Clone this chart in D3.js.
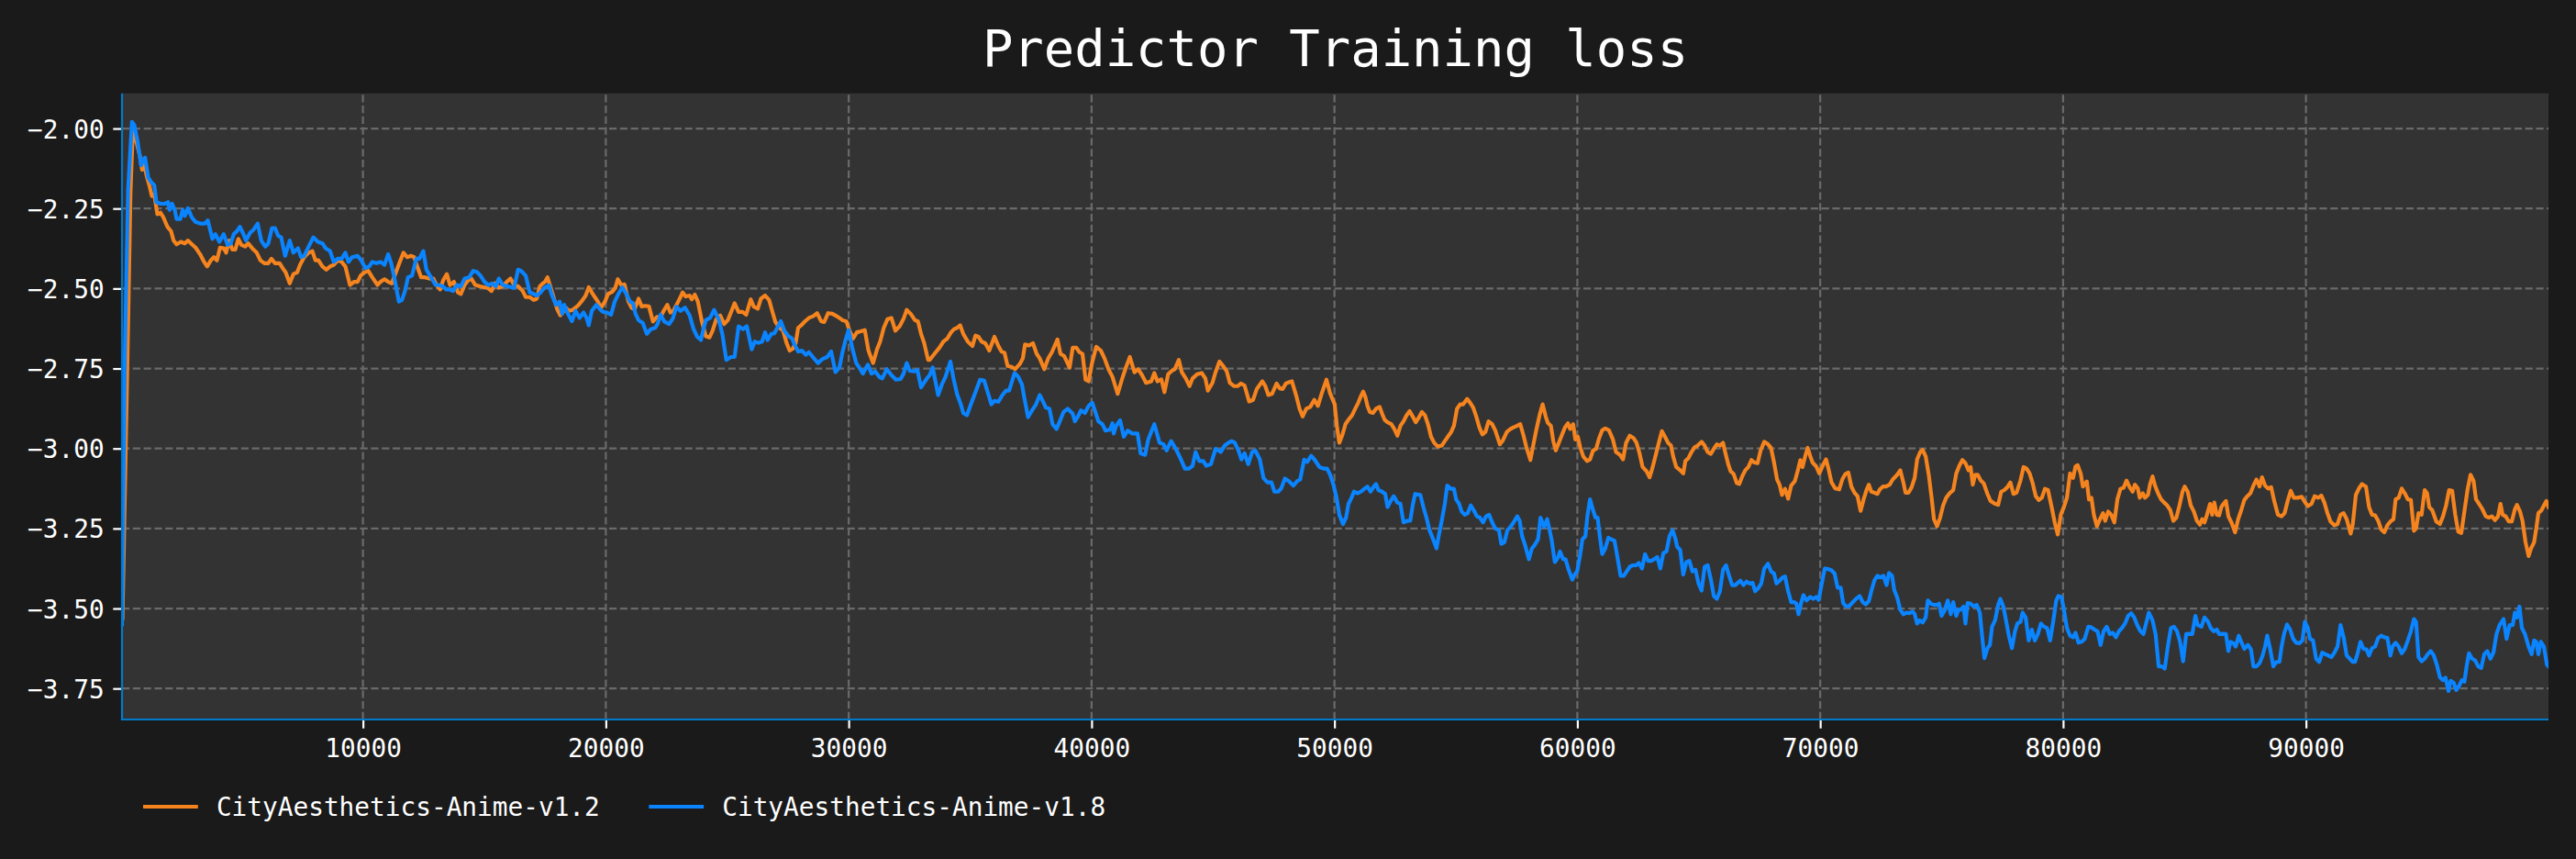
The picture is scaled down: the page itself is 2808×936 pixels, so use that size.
<!DOCTYPE html>
<html><head><meta charset="utf-8">
<script src="https://cdn.jsdelivr.net/npm/d3@7"></script>
<style>
html,body{margin:0;padding:0;background:#1a1a1a;}
svg{display:block;}
</style></head><body>
<script>
const chartTitle = "Predictor Training loss";
const seriesNames = ["CityAesthetics-Anime-v1.2", "CityAesthetics-Anime-v1.8"];
const seriesColors = ["#f5841f", "#0a84ff"];
const xTickValues = [10000, 20000, 30000, 40000, 50000, 60000, 70000, 80000, 90000];
const yTickValues = [-2.00, -2.25, -2.50, -2.75, -3.00, -3.25, -3.50, -3.75];

// [step, loss] for CityAesthetics-Anime-v1.2
const lossV12 = [
[100,-3.53],[320,-2.66],[430,-2.20],[528,-2.002],[691,-2.048],[817,-2.086],[905,-2.129],[993,-2.110],[1094,-2.148],[1220,-2.182],[1308,-2.211],[1409,-2.206],[1535,-2.268],[1661,-2.263],[1786,-2.278],[1950,-2.307],[2101,-2.321],[2202,-2.350],[2328,-2.362],[2504,-2.354],[2668,-2.359],[2793,-2.350],[2919,-2.359],[3108,-2.372],[3297,-2.393],[3461,-2.417],[3586,-2.431],[3738,-2.412],[3863,-2.402],[3989,-2.412],[4115,-2.372],[4266,-2.374],[4367,-2.388],[4493,-2.350],[4619,-2.378],[4745,-2.378],[4870,-2.345],[4996,-2.364],[5147,-2.369],[5273,-2.359],[5437,-2.374],[5626,-2.388],[5777,-2.412],[5940,-2.421],[6104,-2.421],[6230,-2.407],[6381,-2.421],[6570,-2.421],[6696,-2.436],[6822,-2.450],[6985,-2.484],[7136,-2.455],[7287,-2.450],[7413,-2.426],[7577,-2.402],[7766,-2.388],[7917,-2.383],[8043,-2.412],[8168,-2.412],[8332,-2.431],[8496,-2.441],[8647,-2.431],[8798,-2.426],[8962,-2.412],[9125,-2.417],[9276,-2.431],[9465,-2.489],[9629,-2.479],[9780,-2.479],[9906,-2.460],[10057,-2.450],[10220,-2.445],[10384,-2.465],[10598,-2.489],[10724,-2.479],[10887,-2.471],[11039,-2.479],[11190,-2.484],[11353,-2.450],[11542,-2.412],[11668,-2.388],[11819,-2.402],[11983,-2.398],[12109,-2.402],[12234,-2.431],[12398,-2.465],[12549,-2.465],[12738,-2.469],[12902,-2.469],[13028,-2.489],[13179,-2.503],[13304,-2.474],[13455,-2.455],[13581,-2.489],[13745,-2.479],[13909,-2.512],[14034,-2.517],[14185,-2.489],[14336,-2.474],[14462,-2.469],[14626,-2.489],[14815,-2.493],[15130,-2.498],[15293,-2.508],[15444,-2.484],[15595,-2.498],[15759,-2.493],[15923,-2.479],[16074,-2.469],[16225,-2.489],[16388,-2.493],[16577,-2.508],[16703,-2.527],
[16867,-2.527],[17031,-2.536],[17156,-2.532],[17282,-2.493],[17408,-2.484],[17496,-2.479],[17597,-2.465],[17723,-2.496],[17849,-2.527],[17999,-2.565],[18125,-2.584],[18226,-2.575],[18352,-2.560],[18478,-2.570],[18629,-2.567],[18755,-2.560],[18881,-2.551],[19045,-2.536],[19171,-2.522],[19296,-2.496],[19422,-2.512],[19548,-2.527],[19674,-2.541],[19800,-2.560],[19964,-2.541],[20089,-2.517],[20266,-2.510],[20392,-2.498],[20492,-2.471],[20643,-2.490],[20769,-2.487],[20933,-2.541],[21059,-2.560],[21185,-2.565],[21348,-2.532],[21474,-2.556],[21625,-2.554],[21776,-2.556],[21940,-2.603],[22104,-2.589],[22255,-2.589],[22380,-2.570],[22532,-2.551],[22657,-2.575],[22783,-2.570],[22947,-2.546],[23073,-2.527],[23161,-2.512],[23287,-2.525],[23450,-2.522],[23539,-2.534],[23664,-2.519],[23790,-2.541],[23954,-2.603],[24118,-2.649],[24269,-2.653],[24395,-2.632],[24546,-2.596],[24709,-2.584],[24873,-2.611],[25024,-2.599],[25150,-2.575],[25301,-2.546],[25465,-2.573],[25628,-2.573],[25779,-2.582],[25968,-2.534],[26094,-2.557],[26258,-2.563],[26383,-2.532],[26560,-2.522],[26723,-2.536],[26849,-2.570],[26975,-2.603],[27139,-2.623],[27290,-2.630],[27441,-2.670],[27567,-2.694],[27693,-2.688],[27818,-2.670],[27919,-2.623],[28045,-2.615],[28196,-2.603],[28360,-2.592],[28549,-2.586],[28700,-2.577],[28863,-2.602],[28989,-2.605],[29153,-2.577],[29329,-2.579],[29493,-2.586],[29619,-2.592],[29744,-2.599],[29908,-2.603],[30034,-2.632],[30185,-2.656],[30336,-2.637],[30500,-2.634],[30663,-2.630],[30814,-2.694],[31003,-2.733],[31167,-2.690],[31293,-2.666],[31444,-2.623],[31595,-2.596],[31759,-2.592],[31922,-2.632],[32098,-2.618],[32262,-2.594],[32388,-2.567],[32552,-2.579],[32728,-2.599],[32854,-2.603],[32980,-2.642],[33106,-2.670],[33269,-2.723],
[33332,-2.723],[33458,-2.711],[33584,-2.699],[33735,-2.685],[33898,-2.666],[34062,-2.656],[34213,-2.637],[34339,-2.627],[34465,-2.623],[34591,-2.615],[34717,-2.642],[34905,-2.666],[35094,-2.680],[35220,-2.647],[35346,-2.651],[35472,-2.666],[35623,-2.671],[35787,-2.694],[36001,-2.651],[36164,-2.680],[36290,-2.697],[36416,-2.701],[36542,-2.742],[36705,-2.745],[36857,-2.752],[37045,-2.736],[37171,-2.718],[37259,-2.675],[37423,-2.678],[37587,-2.671],[37738,-2.704],[37864,-2.718],[38052,-2.752],[38216,-2.718],[38367,-2.699],[38594,-2.659],[38719,-2.704],[38871,-2.711],[39097,-2.747],[39223,-2.685],[39374,-2.685],[39500,-2.699],[39626,-2.704],[39752,-2.785],[39878,-2.790],[40004,-2.738],[40192,-2.682],[40381,-2.694],[40532,-2.718],[40696,-2.752],[40860,-2.776],[41074,-2.829],[41262,-2.781],[41413,-2.747],[41577,-2.714],[41766,-2.762],[41917,-2.752],[42081,-2.771],[42244,-2.795],[42458,-2.790],[42584,-2.764],[42710,-2.790],[42874,-2.784],[43000,-2.824],[43151,-2.768],[43339,-2.755],[43427,-2.752],[43591,-2.723],[43717,-2.762],[43881,-2.781],[44032,-2.805],[44158,-2.781],[44346,-2.768],[44535,-2.764],[44686,-2.781],[44787,-2.819],[44976,-2.795],[45102,-2.762],[45265,-2.728],[45416,-2.742],[45567,-2.759],[45693,-2.795],[45857,-2.805],[46021,-2.805],[46147,-2.797],[46298,-2.803],[46486,-2.853],[46650,-2.848],[46801,-2.814],[47028,-2.790],[47153,-2.805],[47279,-2.833],[47430,-2.829],[47619,-2.797],[47745,-2.812],[47871,-2.814],[47997,-2.797],[48123,-2.793],[48249,-2.790],[48437,-2.838],[48563,-2.876],[48689,-2.900],[48840,-2.876],[49004,-2.870],[49168,-2.848],[49319,-2.867],[49470,-2.829],[49671,-2.785],[49822,-2.828],
[50011,-2.862],[50099,-2.929],[50200,-2.982],[50326,-2.958],[50451,-2.924],[50577,-2.910],[50728,-2.896],[50854,-2.876],[50980,-2.857],[51081,-2.838],[51182,-2.822],[51270,-2.838],[51358,-2.867],[51458,-2.886],[51584,-2.889],[51710,-2.876],[51861,-2.870],[51962,-2.891],[52063,-2.910],[52188,-2.918],[52340,-2.924],[52465,-2.939],[52591,-2.960],[52717,-2.929],[52843,-2.915],[52969,-2.896],[53095,-2.883],[53221,-2.900],[53347,-2.918],[53499,-2.900],[53598,-2.886],[53724,-2.896],[53850,-2.924],[53976,-2.963],[54102,-2.982],[54253,-2.994],[54417,-2.991],[54543,-2.977],[54668,-2.963],[54794,-2.950],[54920,-2.929],[55046,-2.876],[55172,-2.862],[55298,-2.862],[55461,-2.845],[55587,-2.857],[55713,-2.872],[55839,-2.900],[55965,-2.934],[56091,-2.956],[56217,-2.948],[56343,-2.915],[56494,-2.924],[56620,-2.943],[56745,-2.972],[56808,-2.987],[56934,-2.975],[57098,-2.948],[57249,-2.939],[57375,-2.934],[57526,-2.929],[57652,-2.924],[57778,-2.958],[57903,-2.996],[58067,-3.036],[58193,-2.987],[58319,-2.939],[58445,-2.896],[58571,-2.862],[58697,-2.900],[58785,-2.920],[58911,-2.929],[59011,-2.977],[59112,-3.006],[59238,-2.982],[59364,-2.958],[59490,-2.934],[59615,-2.921],[59704,-2.939],[59829,-2.924],[59918,-2.972],[60018,-2.963],[60119,-2.996],[60245,-3.025],[60396,-3.039],[60522,-3.034],[60648,-3.006],[60774,-3.001],[60899,-2.967],[61025,-2.943],[61151,-2.937],[61302,-2.943],[61466,-2.972],[61592,-3.011],[61755,-3.020],[61881,-3.034],[62007,-2.982],[62158,-2.960],[62309,-2.967],[62435,-2.982],[62561,-3.015],[62687,-3.058],[62851,-3.071],[62976,-3.090],[63102,-3.058],[63228,-3.020],[63354,-2.982],[63480,-2.946],[63606,-2.963],[63732,-2.982],[63858,-2.991],[63946,-3.025],[64072,-3.058],[64235,-3.068],[64361,-3.078],[64449,-3.039],[64575,-3.030],[64701,-3.011],[64827,-2.996],[64953,-2.991],[65116,-2.979],[65242,-2.991],[65368,-3.011],[65494,-3.017],[65620,-3.001],[65746,-2.987],[65872,-2.991],[65998,-2.982],[66086,-3.011],[66212,-3.049],[66312,-3.071],[66438,-3.080],[66564,-3.108],
[66665,-3.111],[66790,-3.087],[66916,-3.068],[67042,-3.058],[67168,-3.036],[67294,-3.044],[67420,-3.046],[67546,-3.006],[67697,-2.979],[67823,-2.985],[67974,-2.998],[68100,-3.044],[68225,-3.097],[68326,-3.113],[68427,-3.145],[68553,-3.126],[68679,-3.157],[68805,-3.116],[68956,-3.102],[69081,-3.068],[69182,-3.036],[69270,-3.058],[69396,-3.020],[69484,-2.998],[69585,-3.023],[69686,-3.044],[69837,-3.056],[69963,-3.078],[70114,-3.052],[70240,-3.034],[70340,-3.063],[70466,-3.106],[70617,-3.125],[70781,-3.128],[70907,-3.097],[71033,-3.080],[71159,-3.075],[71284,-3.119],[71410,-3.138],[71536,-3.149],[71662,-3.195],[71788,-3.159],[71914,-3.128],[72002,-3.113],[72103,-3.135],[72228,-3.138],[72354,-3.142],[72455,-3.128],[72581,-3.119],[72707,-3.119],[72858,-3.113],[72984,-3.097],[73173,-3.082],[73298,-3.068],[73424,-3.106],[73512,-3.138],[73638,-3.138],[73764,-3.121],[73890,-3.092],[73991,-3.034],[74117,-3.011],[74217,-3.004],[74343,-3.025],[74469,-3.082],[74595,-3.159],[74683,-3.221],[74809,-3.243],[74935,-3.217],[75061,-3.178],[75187,-3.154],[75350,-3.138],[75476,-3.130],[75602,-3.078],[75728,-3.054],[75854,-3.036],[75980,-3.046],[76106,-3.068],[76194,-3.058],[76282,-3.113],[76383,-3.082],[76483,-3.082],[76609,-3.100],[76735,-3.109],[76886,-3.142],[77012,-3.164],[77201,-3.173],[77327,-3.176],[77453,-3.135],[77578,-3.130],[77704,-3.121],[77830,-3.106],[77956,-3.142],[78082,-3.138],[78246,-3.100],[78371,-3.058],[78497,-3.063],[78623,-3.078],[78749,-3.109],[78875,-3.149],[79001,-3.161],[79127,-3.154],[79252,-3.126],[79378,-3.130],[79530,-3.183],[79655,-3.231],[79781,-3.269],[79907,-3.207],[80033,-3.183],[80159,-3.154],[80285,-3.078],[80411,-3.092],[80512,-3.056],[80600,-3.052],[80725,-3.078],[80814,-3.119],[80977,-3.103],[81065,-3.159],[81166,-3.154],[81267,-3.207],[81393,-3.243],[81519,-3.221],[81644,-3.202],[81732,-3.226],[81858,-3.197],[81984,-3.207],[82110,-3.231],[82236,-3.159],[82362,-3.126],[82488,-3.123],[82614,-3.100],[82740,-3.121],[82865,-3.135],[82953,-3.113],[83079,-3.125],
[83155,-3.154],[83281,-3.140],[83369,-3.154],[83495,-3.145],[83583,-3.111],[83683,-3.087],[83784,-3.116],[83910,-3.140],[84036,-3.159],[84162,-3.169],[84288,-3.178],[84414,-3.193],[84539,-3.226],[84665,-3.216],[84791,-3.178],[84917,-3.135],[85005,-3.119],[85131,-3.135],[85257,-3.178],[85383,-3.197],[85509,-3.226],[85635,-3.238],[85723,-3.221],[85823,-3.231],[85924,-3.207],[86050,-3.173],[86138,-3.207],[86226,-3.169],[86327,-3.207],[86428,-3.209],[86516,-3.183],[86604,-3.173],[86705,-3.164],[86806,-3.212],[86931,-3.231],[87082,-3.262],[87208,-3.221],[87334,-3.193],[87460,-3.161],[87586,-3.149],[87712,-3.140],[87837,-3.116],[87963,-3.097],[88089,-3.119],[88190,-3.090],[88316,-3.116],[88442,-3.125],[88567,-3.121],[88693,-3.164],[88845,-3.207],[88996,-3.212],[89121,-3.202],[89247,-3.164],[89373,-3.132],[89499,-3.154],[89663,-3.154],[89826,-3.151],[89952,-3.167],[90078,-3.180],[90229,-3.173],[90355,-3.149],[90506,-3.154],[90632,-3.147],[90758,-3.169],[90884,-3.202],[91010,-3.228],[91173,-3.240],[91299,-3.236],[91425,-3.207],[91551,-3.202],[91677,-3.221],[91840,-3.266],[91929,-3.236],[92054,-3.145],[92180,-3.125],[92306,-3.111],[92470,-3.119],[92596,-3.183],[92722,-3.207],[92847,-3.209],[92973,-3.226],[93099,-3.253],[93225,-3.262],[93351,-3.240],[93477,-3.228],[93603,-3.221],[93691,-3.159],[93817,-3.154],[93943,-3.125],[94069,-3.140],[94194,-3.159],[94320,-3.161],[94446,-3.257],[94534,-3.250],[94635,-3.202],[94761,-3.207],[94887,-3.130],[94987,-3.140],[95076,-3.183],[95201,-3.193],[95365,-3.228],[95516,-3.236],[95642,-3.212],[95768,-3.178],[95894,-3.130],[96020,-3.132],[96146,-3.207],[96271,-3.260],[96397,-3.264],[96523,-3.197],[96649,-3.130],[96775,-3.082],[96901,-3.101],[97001,-3.159],[97127,-3.173],[97253,-3.188],[97404,-3.212],[97530,-3.216],[97656,-3.212],[97782,-3.224],[97908,-3.212],[98009,-3.173],[98097,-3.207],[98223,-3.212],[98349,-3.228],[98474,-3.228],[98600,-3.190],[98688,-3.176],[98814,-3.197],[98915,-3.226],[99041,-3.293],[99167,-3.336],[99268,-3.312],[99393,-3.293],[99482,-3.250],[99570,-3.202],[99696,-3.193],[99796,-3.178],[99897,-3.164],[99985,-3.183]
];

// [step, loss] for CityAesthetics-Anime-v1.8
const lossV18 = [
[80,-3.55],[200,-2.70],[330,-2.19],[490,-1.979],[591,-1.990],[716,-2.038],[867,-2.115],[968,-2.096],[1031,-2.091],[1157,-2.153],[1283,-2.168],[1409,-2.177],[1497,-2.230],[1661,-2.235],[1849,-2.235],[1975,-2.230],[2038,-2.254],[2139,-2.235],[2252,-2.254],[2328,-2.283],[2479,-2.283],[2579,-2.254],[2668,-2.273],[2793,-2.249],[2957,-2.278],[3108,-2.292],[3297,-2.297],[3486,-2.297],[3612,-2.287],[3800,-2.345],[3926,-2.330],[4090,-2.354],[4266,-2.330],[4430,-2.364],[4556,-2.359],[4682,-2.330],[4808,-2.321],[4933,-2.307],[5059,-2.326],[5185,-2.350],[5349,-2.326],[5500,-2.316],[5664,-2.297],[5814,-2.350],[5978,-2.369],[6104,-2.359],[6255,-2.311],[6381,-2.311],[6507,-2.335],[6633,-2.340],[6796,-2.398],[6985,-2.350],[7136,-2.388],[7325,-2.374],[7451,-2.402],[7577,-2.398],[7766,-2.369],[7954,-2.340],[8143,-2.354],[8332,-2.359],[8458,-2.374],[8647,-2.383],[8798,-2.417],[8962,-2.407],[9125,-2.407],[9276,-2.388],[9402,-2.417],[9553,-2.402],[9780,-2.398],[9931,-2.412],[10094,-2.436],[10258,-2.431],[10384,-2.417],[10560,-2.421],[10724,-2.417],[10887,-2.426],[11039,-2.393],[11164,-2.421],[11290,-2.465],[11479,-2.541],[11605,-2.536],[11731,-2.508],[11857,-2.465],[12020,-2.460],[12197,-2.407],[12322,-2.407],[12486,-2.383],[12612,-2.441],[12801,-2.465],[12990,-2.489],[13116,-2.489],[13279,-2.493],[13430,-2.503],[13556,-2.503],[13707,-2.508],[13871,-2.489],[14034,-2.493],[14185,-2.469],[14374,-2.465],[14538,-2.445],[14689,-2.448],[14840,-2.460],[15004,-2.479],[15167,-2.489],[15318,-2.484],[15469,-2.493],[15595,-2.469],[15759,-2.489],[15948,-2.493],[16225,-2.498],[16388,-2.441],[16514,-2.445],[16703,-2.460],
[16867,-2.512],[17031,-2.517],[17156,-2.522],[17320,-2.512],[17471,-2.498],[17660,-2.490],[17786,-2.522],[17949,-2.551],[18101,-2.541],[18201,-2.579],[18289,-2.551],[18415,-2.575],[18604,-2.602],[18755,-2.570],[18919,-2.592],[19082,-2.575],[19208,-2.592],[19296,-2.615],[19422,-2.570],[19611,-2.551],[19762,-2.565],[19888,-2.573],[20052,-2.575],[20215,-2.582],[20366,-2.541],[20517,-2.517],[20681,-2.496],[20845,-2.517],[20996,-2.541],[21122,-2.546],[21222,-2.579],[21348,-2.599],[21524,-2.608],[21688,-2.642],[21852,-2.627],[22028,-2.623],[22129,-2.611],[22255,-2.582],[22406,-2.603],[22607,-2.611],[22758,-2.594],[22909,-2.557],[23073,-2.570],[23262,-2.560],[23450,-2.584],[23614,-2.627],[23765,-2.651],[23916,-2.661],[24017,-2.627],[24118,-2.599],[24294,-2.592],[24458,-2.567],[24646,-2.596],[24797,-2.642],[24961,-2.723],[25150,-2.714],[25301,-2.714],[25465,-2.618],[25653,-2.627],[25804,-2.618],[26006,-2.690],[26132,-2.666],[26283,-2.670],[26434,-2.666],[26560,-2.637],[26660,-2.661],[26811,-2.642],[26937,-2.640],[27063,-2.623],[27202,-2.602],[27353,-2.632],[27516,-2.649],[27667,-2.656],[27768,-2.675],[27919,-2.697],[28070,-2.694],[28234,-2.707],[28360,-2.699],[28523,-2.714],[28737,-2.733],[28926,-2.720],[29115,-2.714],[29279,-2.697],[29455,-2.761],[29619,-2.747],[29744,-2.699],[29870,-2.661],[29996,-2.630],[30160,-2.690],[30311,-2.733],[30437,-2.747],[30588,-2.766],[30789,-2.738],[30940,-2.766],[31091,-2.759],[31255,-2.776],[31381,-2.781],[31570,-2.752],[31759,-2.771],[31947,-2.785],[32136,-2.783],[32262,-2.766],[32388,-2.733],[32514,-2.757],[32703,-2.759],[32829,-2.755],[32980,-2.809],[33143,-2.790],[33269,-2.776],
[33332,-2.771],[33458,-2.747],[33558,-2.785],[33684,-2.833],[33835,-2.800],[33986,-2.776],[34188,-2.728],[34313,-2.781],[34465,-2.831],[34616,-2.862],[34717,-2.889],[34868,-2.896],[35031,-2.862],[35220,-2.824],[35409,-2.785],[35573,-2.787],[35724,-2.824],[35875,-2.862],[36001,-2.851],[36164,-2.854],[36328,-2.833],[36479,-2.819],[36605,-2.819],[36831,-2.764],[36982,-2.776],[37133,-2.800],[37234,-2.843],[37385,-2.902],[37549,-2.881],[37713,-2.862],[37864,-2.833],[37989,-2.851],[38115,-2.872],[38266,-2.876],[38392,-2.924],[38556,-2.939],[38719,-2.910],[38845,-2.886],[39022,-2.876],[39223,-2.891],[39311,-2.915],[39437,-2.900],[39563,-2.881],[39727,-2.889],[39878,-2.867],[40029,-2.857],[40155,-2.886],[40280,-2.915],[40444,-2.924],[40570,-2.944],[40759,-2.941],[40860,-2.921],[40910,-2.953],[41011,-2.929],[41174,-2.912],[41325,-2.963],[41489,-2.944],[41665,-2.953],[41892,-2.953],[42018,-3.015],[42206,-3.020],[42332,-2.972],[42458,-2.948],[42584,-2.924],[42710,-2.958],[42798,-2.982],[42962,-2.987],[43088,-3.006],[43276,-2.977],[43465,-3.001],[43654,-3.030],[43843,-3.063],[44007,-3.063],[44158,-3.054],[44283,-3.011],[44434,-3.039],[44598,-3.039],[44724,-3.054],[44913,-3.049],[45102,-3.001],[45316,-3.011],[45479,-2.991],[45643,-2.982],[45769,-2.977],[45895,-2.982],[46046,-3.006],[46172,-3.034],[46298,-3.015],[46449,-3.049],[46612,-3.011],[46738,-3.006],[46927,-3.034],[47078,-3.092],[47242,-3.106],[47405,-3.106],[47531,-3.135],[47682,-3.135],[47808,-3.125],[47959,-3.094],[48123,-3.102],[48312,-3.116],[48463,-3.102],[48589,-3.097],[48752,-3.035],[48878,-3.042],[49042,-3.023],[49193,-3.036],[49382,-3.058],[49570,-3.063],[49696,-3.063],[49822,-3.082],[49948,-3.110],
[50074,-3.149],[50200,-3.207],[50351,-3.236],[50477,-3.216],[50577,-3.173],[50703,-3.154],[50804,-3.135],[50955,-3.140],[51081,-3.135],[51232,-3.126],[51358,-3.119],[51484,-3.135],[51584,-3.123],[51710,-3.111],[51811,-3.130],[51962,-3.135],[52088,-3.142],[52188,-3.183],[52314,-3.164],[52440,-3.149],[52591,-3.169],[52717,-3.173],[52843,-3.231],[52994,-3.226],[53120,-3.226],[53221,-3.178],[53321,-3.142],[53535,-3.145],[53661,-3.183],[53787,-3.216],[53913,-3.255],[54039,-3.279],[54203,-3.312],[54291,-3.274],[54417,-3.226],[54543,-3.173],[54643,-3.116],[54794,-3.126],[54920,-3.126],[55008,-3.159],[55134,-3.173],[55235,-3.197],[55361,-3.207],[55487,-3.202],[55613,-3.178],[55738,-3.193],[55864,-3.212],[55990,-3.216],[56116,-3.231],[56242,-3.212],[56368,-3.207],[56494,-3.231],[56620,-3.250],[56771,-3.255],[56871,-3.298],[56997,-3.293],[57123,-3.255],[57249,-3.245],[57375,-3.231],[57526,-3.212],[57627,-3.226],[57727,-3.274],[57853,-3.303],[58004,-3.346],[58130,-3.312],[58231,-3.303],[58382,-3.284],[58483,-3.216],[58634,-3.245],[58759,-3.221],[58860,-3.255],[58948,-3.288],[59074,-3.355],[59200,-3.341],[59288,-3.322],[59414,-3.346],[59515,-3.346],[59641,-3.379],[59792,-3.410],[59892,-3.394],[59993,-3.384],[60119,-3.331],[60207,-3.284],[60333,-3.274],[60421,-3.207],[60522,-3.159],[60648,-3.193],[60748,-3.216],[60837,-3.216],[60925,-3.274],[61025,-3.330],[61151,-3.312],[61277,-3.279],[61403,-3.284],[61529,-3.288],[61655,-3.341],[61781,-3.398],[61906,-3.398],[62032,-3.384],[62158,-3.370],[62284,-3.365],[62410,-3.365],[62536,-3.358],[62662,-3.375],[62788,-3.330],[62914,-3.351],[63039,-3.351],[63165,-3.346],[63291,-3.339],[63417,-3.375],[63543,-3.327],[63669,-3.322],[63795,-3.274],[63921,-3.255],[64046,-3.284],[64109,-3.307],[64235,-3.317],[64361,-3.394],[64487,-3.355],[64613,-3.351],[64739,-3.384],[64865,-3.379],[64991,-3.422],[65116,-3.444],[65242,-3.370],[65368,-3.365],[65494,-3.408],[65620,-3.461],[65746,-3.470],[65872,-3.446],[65998,-3.379],[66124,-3.365],[66250,-3.398],[66375,-3.427],[66501,-3.427],
[66715,-3.413],[66841,-3.427],[66967,-3.416],[67093,-3.422],[67219,-3.420],[67319,-3.446],[67445,-3.437],[67571,-3.422],[67697,-3.375],[67848,-3.360],[67974,-3.384],[68100,-3.391],[68200,-3.422],[68326,-3.413],[68452,-3.403],[68553,-3.400],[68679,-3.446],[68805,-3.480],[68930,-3.480],[69019,-3.485],[69107,-3.518],[69207,-3.485],[69308,-3.458],[69434,-3.475],[69585,-3.464],[69711,-3.470],[69837,-3.464],[69937,-3.473],[70063,-3.422],[70189,-3.375],[70340,-3.377],[70466,-3.381],[70592,-3.391],[70718,-3.435],[70844,-3.435],[70945,-3.483],[71070,-3.494],[71196,-3.492],[71347,-3.480],[71473,-3.470],[71624,-3.461],[71750,-3.480],[71876,-3.487],[72002,-3.477],[72103,-3.446],[72228,-3.413],[72354,-3.398],[72480,-3.403],[72606,-3.398],[72732,-3.427],[72833,-3.389],[72959,-3.398],[73047,-3.442],[73173,-3.466],[73298,-3.504],[73424,-3.518],[73550,-3.513],[73676,-3.515],[73802,-3.509],[73890,-3.518],[73991,-3.547],[74092,-3.537],[74217,-3.544],[74343,-3.528],[74431,-3.475],[74557,-3.485],[74683,-3.489],[74809,-3.489],[74897,-3.485],[74998,-3.523],[75124,-3.506],[75250,-3.475],[75375,-3.518],[75476,-3.480],[75602,-3.523],[75690,-3.504],[75778,-3.504],[75904,-3.494],[75980,-3.547],[76068,-3.483],[76194,-3.485],[76320,-3.494],[76445,-3.489],[76571,-3.513],[76659,-3.580],[76760,-3.655],[76886,-3.624],[76987,-3.614],[77075,-3.557],[77201,-3.537],[77327,-3.489],[77415,-3.470],[77541,-3.494],[77641,-3.533],[77767,-3.585],[77893,-3.624],[78019,-3.571],[78120,-3.547],[78246,-3.542],[78334,-3.513],[78460,-3.528],[78585,-3.600],[78711,-3.566],[78837,-3.600],[78963,-3.580],[79089,-3.547],[79215,-3.557],[79341,-3.561],[79467,-3.600],[79592,-3.542],[79718,-3.475],[79806,-3.461],[79932,-3.464],[80033,-3.504],[80159,-3.561],[80285,-3.585],[80411,-3.590],[80512,-3.576],[80637,-3.607],[80763,-3.604],[80889,-3.595],[81040,-3.557],[81166,-3.559],[81292,-3.566],[81418,-3.571],[81544,-3.614],[81670,-3.571],[81796,-3.557],[81922,-3.580],[82048,-3.576],[82174,-3.590],[82299,-3.571],[82425,-3.561],[82551,-3.547],[82677,-3.523],[82803,-3.515],[82929,-3.528],[83055,-3.552],[83180,-3.570],
[83306,-3.580],[83432,-3.542],[83532,-3.513],[83683,-3.537],[83809,-3.580],[83935,-3.681],[84061,-3.681],[84187,-3.688],[84313,-3.619],[84439,-3.561],[84565,-3.557],[84690,-3.571],[84816,-3.604],[84942,-3.665],[85068,-3.580],[85194,-3.579],[85320,-3.580],[85446,-3.523],[85546,-3.552],[85697,-3.557],[85823,-3.528],[85974,-3.542],[86075,-3.561],[86201,-3.571],[86327,-3.566],[86427,-3.580],[86579,-3.579],[86705,-3.580],[86806,-3.633],[86893,-3.604],[87019,-3.609],[87107,-3.619],[87233,-3.585],[87334,-3.604],[87460,-3.626],[87611,-3.614],[87737,-3.628],[87837,-3.681],[87963,-3.681],[88089,-3.671],[88215,-3.647],[88316,-3.619],[88404,-3.585],[88530,-3.628],[88656,-3.681],[88782,-3.667],[88907,-3.667],[88996,-3.619],[89096,-3.580],[89222,-3.550],[89348,-3.566],[89474,-3.595],[89600,-3.607],[89726,-3.609],[89852,-3.600],[89952,-3.542],[90078,-3.561],[90166,-3.595],[90292,-3.600],[90418,-3.657],[90544,-3.667],[90670,-3.638],[90796,-3.643],[90922,-3.647],[91047,-3.652],[91173,-3.638],[91299,-3.619],[91425,-3.552],[91551,-3.590],[91677,-3.647],[91803,-3.657],[91929,-3.667],[92017,-3.667],[92117,-3.643],[92243,-3.604],[92369,-3.626],[92495,-3.628],[92596,-3.647],[92722,-3.624],[92847,-3.619],[92973,-3.592],[93099,-3.585],[93225,-3.590],[93351,-3.592],[93477,-3.647],[93565,-3.619],[93691,-3.607],[93817,-3.619],[93943,-3.640],[94069,-3.626],[94194,-3.600],[94320,-3.571],[94446,-3.533],[94534,-3.542],[94635,-3.652],[94761,-3.665],[94887,-3.657],[95013,-3.643],[95138,-3.633],[95264,-3.647],[95390,-3.676],[95516,-3.715],[95642,-3.724],[95743,-3.716],[95869,-3.758],[95957,-3.726],[96083,-3.732],[96184,-3.755],[96297,-3.743],[96423,-3.724],[96523,-3.729],[96624,-3.676],[96712,-3.640],[96838,-3.657],[96964,-3.662],[97090,-3.681],[97216,-3.686],[97341,-3.643],[97467,-3.633],[97593,-3.657],[97719,-3.638],[97845,-3.580],[97971,-3.552],[98134,-3.533],[98260,-3.595],[98386,-3.552],[98512,-3.552],[98600,-3.513],[98688,-3.528],[98789,-3.494],[98890,-3.561],[99016,-3.580],[99167,-3.619],[99293,-3.643],[99393,-3.600],[99482,-3.604],[99570,-3.643],[99670,-3.604],[99796,-3.619],[99922,-3.676],[99985,-3.681]
];

const seriesData = [lossV12, lossV18];

const W = 2808, H = 936;
const plot = {left: 133, right: 2778, top: 101.7, bottom: 784};
const FONT = "'DejaVu Sans Mono', 'Liberation Mono', monospace";
const fs = 27.78;

const all = seriesData.flat();
const xDom = d3.extent(all, d => d[0]);
const yExt = d3.extent(all, d => d[1]);
const yPad = (yExt[1] - yExt[0]) * 0.05;

const x = d3.scaleLinear().domain(xDom).range([plot.left, plot.right]);
const y = d3.scaleLinear().domain([yExt[0] - yPad, yExt[1] + yPad]).range([plot.bottom, plot.top]);

const svg = d3.select("body").append("svg").attr("width", W).attr("height", H)
  .style("background", "#1a1a1a");

svg.append("rect").attr("x", 0).attr("y", 0).attr("width", W).attr("height", H).attr("fill", "#1a1a1a");

svg.append("defs").append("clipPath").attr("id", "plotclip")
  .append("rect").attr("x", plot.left).attr("y", plot.top)
  .attr("width", plot.right - plot.left).attr("height", plot.bottom - plot.top);

// plot background
svg.append("rect").attr("x", plot.left).attr("y", plot.top)
  .attr("width", plot.right - plot.left).attr("height", plot.bottom - plot.top)
  .attr("fill", "#333333");

// grid
const grid = svg.append("g").attr("stroke", "#6a6a6a").attr("stroke-width", 2.2)
  .attr("stroke-dasharray", "8.2,3.6").attr("fill", "none");
grid.selectAll("line.vx").data(xTickValues).join("line")
  .attr("x1", d => x(d)).attr("x2", d => x(d))
  .attr("y1", plot.bottom).attr("y2", plot.top);
grid.selectAll("line.hy").data(yTickValues).join("line")
  .attr("x1", plot.left).attr("x2", plot.right)
  .attr("y1", d => y(d)).attr("y2", d => y(d));

// series lines
const line = d3.line().x(d => x(d[0])).y(d => y(d[1]));
const lines = svg.append("g").attr("clip-path", "url(#plotclip)");
seriesData.forEach((data, i) => {
  lines.append("path").datum(data)
    .attr("d", line).attr("fill", "none")
    .attr("stroke", seriesColors[i]).attr("stroke-width", 4.17)
    .attr("stroke-linejoin", "round").attr("stroke-linecap", "square");
});

// axes
const xAxis = d3.axisBottom(x).tickValues(xTickValues).tickFormat(d3.format("d"))
  .tickSize(9.7).tickPadding(9.7);
const gx = svg.append("g").attr("transform", `translate(0,${plot.bottom})`).call(xAxis);
gx.select(".domain").remove();
gx.selectAll(".tick line").attr("stroke", "#ffffff").attr("stroke-width", 2.2);
gx.selectAll(".tick text").attr("fill", "#ffffff").attr("font-family", FONT)
  .attr("font-size", fs).attr("dy", "0.795em");

const yAxis = d3.axisLeft(y).tickValues(yTickValues).tickFormat(d3.format(".2f"))
  .tickSize(9.7).tickPadding(9.7);
const gy = svg.append("g").attr("transform", `translate(${plot.left},0)`).call(yAxis);
gy.select(".domain").remove();
gy.selectAll(".tick line").attr("stroke", "#ffffff").attr("stroke-width", 2.2);
gy.selectAll(".tick text").attr("fill", "#ffffff").attr("font-family", FONT)
  .attr("font-size", fs).attr("dy", "0.36em");

// spines (left, bottom)
svg.append("line").attr("x1", plot.left).attr("x2", plot.left)
  .attr("y1", plot.top).attr("y2", plot.bottom + 1.1)
  .attr("stroke", "#007acc").attr("stroke-width", 2.2);
svg.append("line").attr("x1", plot.left - 1.1).attr("x2", plot.right)
  .attr("y1", plot.bottom).attr("y2", plot.bottom)
  .attr("stroke", "#007acc").attr("stroke-width", 2.2);

// title
svg.append("text").attr("x", (plot.left + plot.right) / 2).attr("y", 72)
  .attr("text-anchor", "middle").attr("fill", "#ffffff")
  .attr("font-family", FONT).attr("font-size", 55.56).text(chartTitle);

// legend
const legend = svg.append("g");
let lx = 158.1;
const ly = 879;
seriesNames.forEach((name, i) => {
  legend.append("line").attr("x1", lx).attr("x2", lx + 55.6)
    .attr("y1", ly).attr("y2", ly)
    .attr("stroke", seriesColors[i]).attr("stroke-width", 4.17).attr("stroke-linecap", "square");
  const t = legend.append("text").attr("x", lx + 55.6 + 22.2).attr("y", ly + 10)
    .attr("fill", "#ffffff").attr("font-family", FONT).attr("font-size", fs).text(name);
  const w = t.node().getComputedTextLength();
  lx = lx + 55.6 + 22.2 + w + 55.6;
});
</script>
</body></html>
